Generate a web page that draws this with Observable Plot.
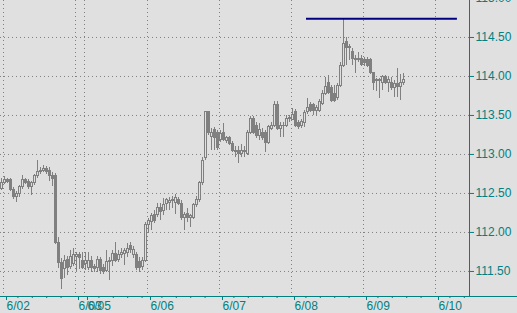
<!DOCTYPE html>
<html><head><meta charset="utf-8">
<script src="https://cdn.jsdelivr.net/npm/d3@7"></script>
<script src="https://cdn.jsdelivr.net/npm/@observablehq/plot@0.6"></script>
<style>
html,body{margin:0;padding:0;background:#e0e0e0;overflow:hidden;}
svg{display:block;}
</style></head><body><div id="chart"></div>
<script>
// Hourly candles, index 0..134
const opens = [112.56,112.64,112.67,112.67,112.55,112.45,112.49,112.58,112.67,112.65,112.58,112.63,112.72,112.77,112.79,112.81,112.79,112.73,112.72,111.87,
111.61,111.53,111.65,111.56,111.60,111.69,111.71,111.64,111.59,111.54,111.64,111.56,111.54,111.65,111.55,111.51,111.62,111.63,111.73,111.65,
111.71,111.72,111.74,111.83,111.71,111.71,111.62,111.56,111.64,112.09,112.13,112.22,112.22,112.32,112.27,112.37,112.38,112.40,112.38,112.41,
112.37,112.18,112.24,112.18,112.19,112.35,112.41,112.63,112.95,113.54,113.23,113.31,113.27,113.18,113.28,113.17,113.21,113.14,113.03,113.04,
113.00,113.03,113.01,113.28,113.46,113.37,113.24,113.28,113.28,113.15,113.33,113.37,113.63,113.33,113.36,113.37,113.45,113.44,113.54,113.40,
113.36,113.40,113.54,113.63,113.63,113.56,113.56,113.65,113.78,113.92,113.85,113.77,113.72,113.88,114.14,114.44,114.36,114.31,114.21,114.21,
114.22,114.21,114.21,114.21,114.04,113.94,113.94,113.92,113.99,113.91,113.92,113.85,113.90,113.86,113.92];
const highs = [112.69,112.72,112.69,112.69,112.58,112.53,112.60,112.73,112.69,112.68,112.65,112.74,112.92,112.83,112.86,112.85,112.83,112.77,112.76,111.94,
111.66,111.71,111.69,111.77,111.79,111.74,111.74,111.74,111.74,111.74,111.69,111.59,111.69,111.68,111.59,111.77,111.68,111.77,111.87,111.77,
111.79,111.79,111.86,111.87,111.82,111.74,111.68,111.68,112.13,112.18,112.24,112.28,112.37,112.37,112.44,112.44,112.45,112.46,112.49,112.45,
112.41,112.26,112.31,112.23,112.37,112.46,112.65,112.96,113.55,113.55,113.33,113.35,113.31,113.31,113.40,113.23,113.23,113.17,113.10,113.10,
113.13,113.10,113.31,113.49,113.49,113.41,113.40,113.33,113.31,113.37,113.41,113.68,113.68,113.41,113.41,113.50,113.50,113.59,113.58,113.44,
113.45,113.56,113.72,113.67,113.65,113.63,113.71,113.82,113.99,114.01,113.88,113.88,113.91,114.18,114.73,114.50,114.41,114.36,114.27,114.31,
114.27,114.24,114.24,114.23,114.05,113.97,113.97,114.01,114.01,113.99,113.99,113.95,114.10,114.03,114.04];
const lows = [112.54,112.62,112.63,112.53,112.42,112.38,112.45,112.55,112.62,112.55,112.47,112.60,112.69,112.74,112.77,112.74,112.65,112.59,111.85,111.54,
111.27,111.41,111.45,111.53,111.56,111.50,111.53,111.53,111.51,111.51,111.49,111.49,111.49,111.46,111.46,111.49,111.38,111.56,111.62,111.62,
111.67,111.58,111.68,111.73,111.67,111.51,111.49,111.51,111.62,111.99,112.03,112.11,112.19,112.15,112.22,112.28,112.28,112.31,112.23,112.35,
112.15,112.03,112.13,112.06,112.17,112.32,112.38,112.60,112.92,113.24,113.05,113.05,113.05,113.15,113.17,113.14,113.12,113.03,112.96,112.88,
112.96,112.96,112.99,113.26,113.26,113.21,113.18,113.18,113.03,113.13,113.31,113.35,113.31,113.22,113.22,113.35,113.41,113.44,113.35,113.32,
113.33,113.35,113.51,113.54,113.50,113.49,113.54,113.63,113.76,113.77,113.67,113.67,113.69,113.86,114.12,114.14,114.21,114.14,114.04,114.18,
114.13,114.13,114.12,114.03,113.82,113.81,113.72,113.82,113.90,113.79,113.82,113.73,113.73,113.69,113.88];
const closes = [112.64,112.67,112.65,112.55,112.45,112.49,112.58,112.67,112.64,112.58,112.63,112.72,112.77,112.79,112.82,112.78,112.73,112.69,111.87,111.61,
111.40,111.64,111.54,111.68,111.71,111.71,111.67,111.55,111.64,111.64,111.54,111.53,111.65,111.51,111.49,111.62,111.63,111.72,111.64,111.71,
111.74,111.76,111.79,111.77,111.78,111.54,111.54,111.64,112.09,112.15,112.21,112.15,112.32,112.26,112.35,112.41,112.40,112.42,112.44,112.37,
112.18,112.22,112.18,112.21,112.35,112.41,112.63,112.92,113.54,113.27,113.28,113.21,113.08,113.26,113.19,113.21,113.14,113.05,113.05,113.00,
113.05,113.04,113.28,113.46,113.28,113.24,113.31,113.21,113.15,113.35,113.37,113.63,113.33,113.37,113.37,113.46,113.47,113.50,113.37,113.35,
113.41,113.53,113.60,113.56,113.56,113.59,113.67,113.78,113.87,113.79,113.69,113.69,113.88,114.14,114.42,114.36,114.38,114.22,114.23,114.23,
114.15,114.17,114.14,114.05,113.92,113.95,113.95,113.99,113.92,113.96,113.85,113.90,113.86,113.92,113.95];

const dayLabels = ["6/02","6/03","6/05","6/06","6/07","6/08","6/09","6/10"];
const dayStarts = [0.5,24.5,27.5,48.5,72.5,96.5,120.5,144.5];
const yTicks = [111.5,112,112.5,113,113.5,114,114.5,115];
const resistanceLevel = 114.74;
const resistanceFrom = 101.5;
const resistanceTo = 151.8;

const candles = opens.map((o,i)=>({i, open:o, high:highs[i], low:lows[i], close:closes[i]}));
const up = candles.filter(d=>d.close>=d.open);
const down = candles.filter(d=>d.close<d.open);

const W=517, H=313, mL=0, mR=48, mT=0, mB=17;
const xDomain=[-0.5,155.83], yDomain=[111.179,114.974];
const xs = Plot.scale({x:{domain:xDomain, range:[mL, W-mR]}});
const xEnd = xs.invert(W);
const teal="#008080", gray="#808080", bg="#e0e0e0";

const minor = [];
dayStarts.forEach((s,k)=>{ const next = k<dayStarts.length-1 ? dayStarts[k+1] : 156; for(let t=s+4.8;t<next-1;t+=4.8) minor.push(t); });
const labelOf = new Map(dayStarts.map((s,k)=>[s,dayLabels[k]]));

const chart = Plot.plot({
  width:W, height:H, marginLeft:mL, marginRight:mR, marginTop:mT, marginBottom:mB,
  x:{domain:xDomain, axis:null, label:null},
  y:{domain:yDomain, axis:null, label:null},
  style:{background:bg, fontFamily:"'Liberation Sans', Arial, sans-serif", fontSize:"12px", overflow:"hidden"},
  marks:[
    Plot.gridY({ticks:yTicks.filter(t=>t<yDomain[1]), stroke:gray, strokeOpacity:1, strokeDasharray:"1,3"}),
    Plot.gridX({ticks:dayStarts, stroke:gray, strokeOpacity:1, strokeDasharray:"1,3"}),
    Plot.ruleX(candles, {x:"i", y1:"low", y2:"high", stroke:gray, dx:-0.5, shapeRendering:"crispEdges"}),
    Plot.rect(up, {x1:d=>d.i-0.5, x2:d=>d.i+0.5, y1:"open", y2:"close", insetLeft:0.5, insetRight:0.5, fill:bg, stroke:gray, dx:-0.5, shapeRendering:"crispEdges"}),
    Plot.rect(down, {x1:d=>d.i-0.5, x2:d=>d.i+0.5, y1:"open", y2:"close", insetLeft:0.5, insetRight:0.5, fill:gray, stroke:gray, dx:-0.5, shapeRendering:"crispEdges"}),
    Plot.ruleY([resistanceLevel], {x1:resistanceFrom, x2:resistanceTo, stroke:"#000080", strokeWidth:2}),
    Plot.ruleX([xDomain[1]], {stroke:teal}),
    Plot.ruleY([yDomain[0]], {x1:xDomain[0]-1, x2:xEnd, stroke:teal}),
    Plot.axisY({anchor:"right", ticks:yTicks, tickFormat:d=>d.toFixed(2), tickSize:4, tickPadding:2, color:teal, fontSize:12, label:null}),
    Plot.axisX({anchor:"bottom", ticks:dayStarts, tickFormat:d=>labelOf.get(d), tickSize:4, tickPadding:1, textAnchor:"start", dx:3, color:teal, fontSize:12, label:null}),
    Plot.axisX({anchor:"bottom", ticks:minor, tickFormat:()=>"", tickSize:2, color:teal, label:null})
  ]
});
document.getElementById("chart").appendChild(chart);
</script></body></html>
